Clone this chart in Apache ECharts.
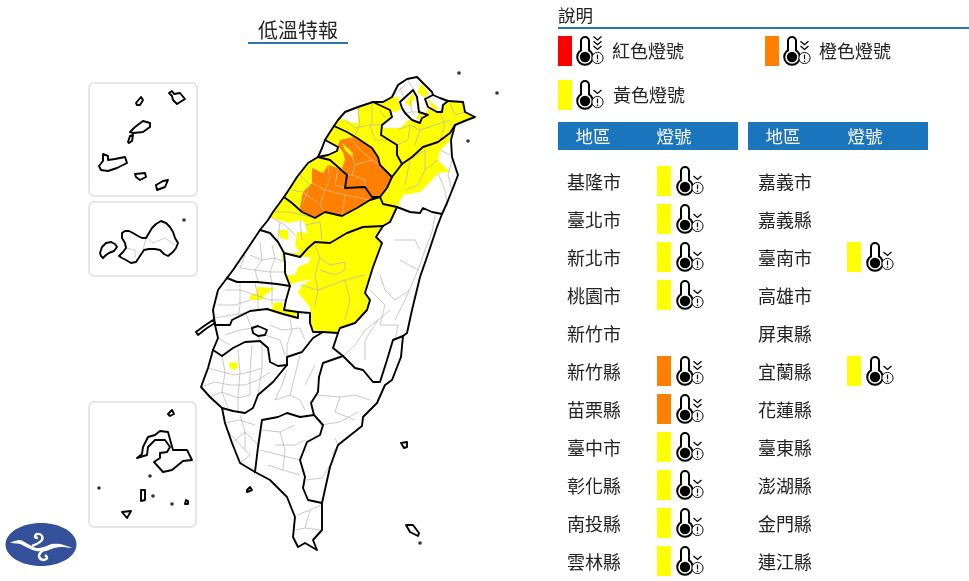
<!DOCTYPE html>
<html>
<head>
<meta charset="utf-8">
<title>低溫特報</title>
<script src="https://cdn.jsdelivr.net/npm/echarts@6/dist/echarts.min.js"></script>
<style>
  html, body { margin: 0; padding: 0; background: #fff; }
  #main { width: 969px; height: 581px; }
</style>
</head>
<body>
<div id="main"></div>
<script>
// 燈號表
var leftRegions = ['基隆市', '臺北市', '新北市', '桃園市', '新竹市', '新竹縣', '苗栗縣', '臺中市', '彰化縣', '南投縣', '雲林縣'];
var leftLevels = ['yellow', 'yellow', 'yellow', 'yellow', '', 'orange', 'orange', 'yellow', 'yellow', 'yellow', 'yellow'];
var rightRegions = ['嘉義市', '嘉義縣', '臺南市', '高雄市', '屏東縣', '宜蘭縣', '花蓮縣', '臺東縣', '澎湖縣', '金門縣', '連江縣'];
var rightLevels = ['', '', 'yellow', '', '', 'yellow', '', '', '', '', ''];
var levelColors = { red: '#ff0000', orange: '#ff8000', yellow: '#ffff00' };
var levelChevrons = { red: 3, orange: 2, yellow: 1 };
var levelNames = { red: '紅色燈號', orange: '橙色燈號', yellow: '黃色燈號' };

// 底圖:座標單位直接用參考圖的像素,y 向下
var coastTY = [[334,126],[338,120],[345,112],[358,107],[373,102]];
var coastNT1 = [[373,102],[383,102],[392,97],[398,85],[407,79],[417,77],[425,85],[432,92],[433,95]];
var coastKL = [[433,95],[440,98],[448,101]];
var coastNT2 = [[448,101],[463,102],[465,112],[475,117],[467,120],[455,125]];
var coastYI = [[455,125],[451,140],[452,157],[458,175],[453,188],[447,203],[442,214]];
var coastHL = [[442,214],[437,227],[427,257],[420,277],[412,310],[407,333],[403,336]];
var coastTT = [[403,336],[401,357],[392,380],[385,385],[377,403],[363,417],[362,426],[338,445],[330,467],[322,503]];
var coastPT = [[255,472],[270,480],[287,497],[295,517],[293,537],[298,547],[305,543],[317,550],[313,540],[322,530],[322,503]];
var coastKH = [[222,408],[225,423],[232,443],[240,463],[255,472]];
var coastTN = [[213,350],[208,368],[201,387],[210,397],[222,408]];
var coastCY = [[215,325],[218,338],[213,350]];
var coastYU = [[227,278],[218,290],[213,310],[215,325]];
var coastCH = [[260,230],[248,248],[233,270],[227,278]];
var coastTC = [[284,197],[273,212],[268,220],[260,230]];
var coastML = [[318,157],[308,163],[297,177],[290,188],[284,197]];
var coastCity = [[325,140],[322,148],[318,157]];
var coastHC = [[334,126],[330,132],[325,140]];

var lineTYNT = [[373,102],[390,110],[392,117],[382,125],[381,135],[397,145],[397,155],[402,164]];
var lineTYIL = [[402,164],[392,177]];
var lineTYHC = [[334,126],[347,132],[357,138],[372,148],[378,157],[380,165],[392,177]];
var lineILNT = [[402,164],[412,157],[423,147],[438,142],[450,133],[455,125]];
var lineCity = [[325,140],[338,147],[337,151],[328,155],[318,157]];
var lineHCML = [[318,157],[330,160],[338,167],[347,175],[345,188],[365,187],[372,197],[380,197]];
var lineHCIL = [[380,197],[387,188],[392,177]];
var lineMLTC = [[284,197],[292,203],[302,212],[315,218],[325,212],[342,216],[357,208],[370,200],[380,197]];
var lineTCCH = [[260,230],[270,233],[278,242],[284,253]];
var lineTCNT = [[284,253],[300,257],[308,248],[315,242],[330,243],[347,233],[363,227],[383,226]];
var lineTCIL = [[380,197],[383,204],[397,207]];
var lineTCHL = [[397,207],[390,222],[383,226]];
var lineILHL = [[397,207],[410,212],[420,213],[423,208],[432,212],[442,214]];
var lineCHNT = [[284,253],[285,263],[285,273],[290,286]];
var lineCHYU = [[227,278],[237,282],[257,282],[277,284],[290,286]];
var lineYUNT = [[290,286],[286,300],[284,310],[298,312]];
var lineYUCY = [[215,325],[230,325],[232,320],[250,311],[267,309],[283,314],[298,318],[298,312]];
var lineCYNT = [[298,312],[310,313],[310,323],[313,332],[323,332]];
var lineKHNT = [[323,332],[338,333]];
var lineNTHL = [[338,333],[340,328],[355,323],[367,310],[370,300],[365,293],[373,267],[382,243],[376,237],[383,226]];
var lineKHHL = [[338,333],[333,348],[343,356]];
var lineHLTT = [[343,356],[355,368],[363,370],[373,382],[380,382],[387,360],[393,340],[403,336]];
var lineKHTT = [[343,356],[323,363],[319,377],[318,392],[311,403],[314,415]];
var lineTTPT = [[314,415],[323,425],[320,435],[307,442],[300,460],[305,477],[303,488],[308,500],[322,503]];
var lineKHPT = [[255,472],[258,447],[262,420],[278,417],[287,413],[300,417],[314,415]];
var lineTNKH = [[222,408],[233,411],[245,413],[253,408],[258,395],[273,382],[287,365]];
var lineCYKH = [[287,365],[287,357],[302,352],[313,338],[323,332]];
var lineCYTN = [[213,350],[222,356],[233,348],[245,342],[260,341],[268,348],[270,362],[278,366],[287,365]];
var lineKeelung = [[433,95],[425,99],[428,107],[437,112],[442,112],[443,105],[448,101]];

var taipeiCity = [[400,102],[413,90],[417,97],[419,112],[428,115],[422,118],[420,123],[412,120],[405,113],[402,108],[400,102]];
var chiayiCity = [[252,328],[258,326],[267,330],[265,335],[258,336],[253,333],[252,328]];

// 離島(含三個框內的放大圖)
var islands = [
  [[196,332],[204,326],[213,320],[215,323],[207,328],[198,335],[196,332]],
  [[247,490],[250,487],[252,490],[247,492],[247,490]],
  [[401,443],[407,442],[407,447],[404,448],[401,443]],
  [[406,525],[413,525],[419,533],[418,536],[410,532],[406,525]],
  [[136,103],[141,97],[143,100],[140,105],[137,105],[136,103]],
  [[169,93],[172,91],[174,94],[180,93],[185,99],[177,104],[173,100],[172,96],[169,93]],
  [[130,132],[135,127],[143,121],[150,123],[150,127],[143,132],[133,133],[130,132]],
  [[128,142],[130,136],[133,135],[132,141],[129,143],[128,142]],
  [[103,154],[108,156],[108,160],[115,159],[125,157],[127,163],[117,168],[108,171],[101,170],[99,166],[103,161],[103,154]],
  [[135,174],[145,173],[146,177],[140,180],[136,177],[135,174]],
  [[156,185],[163,181],[168,180],[165,187],[157,190],[156,185]],
  [[100,253],[102,247],[106,243],[111,242],[115,244],[117,247],[114,251],[109,253],[106,255],[103,258],[101,256],[100,253]],
  [[122,233],[125,231],[129,231],[133,233],[138,236],[142,238],[146,238],[149,233],[152,228],[156,224],[161,221],[166,223],[170,227],[173,232],[175,238],[178,243],[176,248],[173,252],[168,256],[164,254],[160,250],[155,249],[149,249],[144,250],[140,256],[136,262],[131,263],[126,260],[122,258],[119,256],[123,252],[126,248],[125,243],[122,238],[122,233]],
  [[168,414],[172,410],[174,414],[170,416],[168,414]],
  [[137,458],[142,454],[143,447],[148,437],[155,435],[160,431],[168,432],[171,443],[173,450],[177,450],[187,450],[192,460],[183,461],[172,470],[163,472],[154,462],[160,458],[160,453],[167,452],[170,447],[165,440],[155,440],[148,447],[147,455],[137,458]],
  [[141,490],[145,490],[145,500],[141,501],[141,490]],
  [[122,512],[131,511],[127,518],[122,512]],
  [[186,500],[188,501],[188,504],[185,504],[186,500]]
];
var islets = [[459,73],[497,93],[468,141],[420,543],[184,220],[99,488],[153,496],[172,504],[150,476]];

// 上色範圍
var yellowPatches = [
  [[384,128],[400,128],[408,120],[420,123],[425,115],[428,108],[438,113],[448,101],[463,102],[465,112],[475,117],[467,120],[455,125],[450,133],[438,142],[423,147],[412,157],[402,164],[397,155],[397,145],[381,135]],
  [[373,102],[383,102],[392,97],[398,97],[401,110],[390,113],[390,110]],
  [[422,83],[428,93],[425,98],[417,92]],
  [[405,103],[413,93],[415,98],[410,107]],
  [[419,112],[423,115],[421,122],[417,118]],
  [[428,100],[435,105],[438,110],[432,109]],
  [[455,125],[451,140],[440,150],[438,160],[450,172],[438,173],[430,182],[420,192],[403,195],[397,207],[383,204],[380,197],[387,188],[392,177],[402,164],[412,157],[423,147],[438,142],[450,133]],
  [[281,253],[285,255],[285,262],[283,260]],
  [[257,287],[275,288],[265,295],[262,300],[250,300],[250,295],[257,293]],
  [[273,303],[282,302],[284,310],[298,312],[298,318],[283,314],[272,312]],
  [[228,363],[237,362],[238,368],[232,370]]
];
var whitePatches = [
  [[345,112],[358,107],[358,123],[353,123],[340,118]],
  [[260,230],[265,223],[270,217],[278,220],[290,223],[300,220],[305,223],[307,233],[297,232],[295,245],[300,253],[284,253],[278,242],[270,233]],
  [[284,254],[300,257],[311,257],[308,263],[298,267],[295,275],[285,275]],
  [[293,283],[313,279],[302,285],[298,293],[310,307],[310,313],[298,312],[285,308],[286,300],[290,286]]
];
var innerYellowPatches = [
  [[278,230],[288,230],[288,240],[280,238]],
  [[342,143],[353,153],[352,157],[345,150]]
];
var orangePatches = [
  [[340,140],[353,137],[372,148],[378,157],[380,165],[392,177],[387,188],[380,197],[372,197],[365,187],[345,188],[347,175],[342,168],[345,160],[343,152],[338,146]],
  [[312,168],[323,173],[328,165],[338,168],[347,175],[345,188],[365,187],[372,197],[380,197],[370,200],[357,208],[342,216],[325,212],[315,218],[302,212],[300,207],[303,192],[312,183]]
];

// 鄉鎮界
var townLines = [
  [[208,368],[222,372],[235,375],[250,372],[262,368]], [[201,387],[215,382],[230,385],[245,385],[258,380],[270,372]],
  [[210,397],[222,392],[238,398],[250,395]], [[222,356],[225,372],[222,392],[228,408]],
  [[238,350],[240,372],[238,398],[238,411]], [[252,345],[250,372],[250,395]], [[262,345],[262,368],[258,395]],
  [[225,335],[240,330],[252,328]], [[218,338],[230,345]], [[265,335],[280,340],[285,355]], [[258,336],[262,345]],
  [[270,325],[282,330],[300,328],[305,340]], [[245,312],[252,328]], [[290,318],[292,330],[287,345],[287,357]],
  [[225,290],[240,290],[255,295],[270,300],[285,300]], [[218,305],[235,305],[250,300]], [[215,318],[232,315],[250,312]],
  [[240,283],[240,305],[238,318]], [[255,283],[258,297],[258,310]], [[272,285],[272,305]],
  [[250,255],[262,260],[275,258],[285,262]], [[240,268],[255,270],[270,272],[285,272]],
  [[260,242],[262,260],[255,270],[258,282]], [[272,245],[275,258],[270,272],[272,284]], [[245,255],[240,268]],
  [[270,217],[285,225],[295,235]], [[280,222],[278,240]], [[300,220],[302,240]], [[305,225],[320,222],[322,240]],
  [[275,212],[290,212],[315,218]], [[300,175],[310,185],[302,205]], [[292,190],[303,192]],
  [[345,120],[355,128],[370,125],[382,125]], [[358,107],[360,125],[355,135]], [[372,103],[372,125]],
  [[370,125],[375,140],[390,140]], [[380,110],[385,118]],
  [[425,150],[425,170],[418,185],[405,190]], [[438,160],[425,170]], [[440,150],[450,155]],
  [[452,160],[448,175],[452,190]], [[438,173],[445,190],[447,203]], [[425,150],[410,160],[405,185]],
  [[320,258],[330,265],[345,262],[345,270],[335,275],[320,270]], [[315,245],[320,258],[315,275],[318,290]],
  [[318,290],[345,280],[365,275]], [[345,280],[350,300],[345,320]], [[300,285],[318,290],[315,305]],
  [[343,356],[355,345],[365,330],[378,320],[390,310]], [[395,240],[415,240],[420,250]],
  [[380,275],[385,290],[395,300],[410,290]], [[370,290],[385,305],[380,325],[398,325],[395,340]],
  [[378,320],[365,340],[365,360]], [[435,215],[432,232],[425,250],[418,270],[405,300],[395,320]], [[400,260],[418,270]],
  [[262,430],[280,432],[295,425]], [[275,445],[295,445],[305,440]], [[260,450],[280,455],[300,460]],
  [[280,432],[285,450],[283,470]], [[268,465],[283,470],[300,475]],
  [[287,370],[282,385],[275,400],[290,395],[300,400],[305,410]], [[300,355],[295,375],[290,395]], [[315,365],[305,385]],
  [[317,395],[340,397],[355,395],[370,400]], [[340,397],[335,412],[355,420]], [[320,425],[340,422],[358,412]],
  [[335,438],[338,445],[332,455]], [[306,480],[322,478],[330,465]],
  [[225,423],[240,420],[255,425]], [[232,443],[245,432],[258,445]], [[240,463],[250,455]],
  [[240,415],[245,432],[245,450]], [[228,432],[250,455]],
  [[297,515],[310,510],[322,505]], [[295,530],[305,528],[320,530]], [[305,528],[310,510]],
  [[410,100],[412,112],[405,113]], [[412,112],[419,112]], [[410,125],[420,130],[435,125],[450,120]],
  [[440,113],[445,125],[440,140]], [[420,130],[415,145]], [[398,130],[410,125],[408,140],[397,145]],
  [[392,97],[405,85]], [[407,79],[415,92]], [[400,88],[405,100]], [[450,103],[455,115],[465,112]],
  [[126,248],[135,250],[135,258]], [[146,238],[143,250]], [[147,238],[153,243],[165,238],[175,245]]
];
var orangeTownLines = [
  [[312,183],[325,190],[320,205],[325,212]], [[303,192],[320,205]], [[325,190],[330,178],[328,165]],
  [[338,168],[335,185],[345,188]], [[325,190],[345,195],[370,200]], [[345,195],[342,216]],
  [[350,150],[355,165],[352,175],[347,175]], [[355,165],[372,160],[380,165]],
  [[352,175],[365,180],[365,187]], [[350,138],[360,150],[372,160]]
];

var borderLines = [
  coastTY, coastNT1, coastKL, coastNT2, coastYI, coastHL, coastTT, coastPT, coastKH, coastTN, coastCY, coastYU,
  coastCH, coastTC, coastML, coastCity, coastHC, lineTYNT, lineTYIL, lineTYHC, lineILNT, lineCity, lineHCML,
  lineHCIL, lineMLTC, lineTCCH, lineTCNT, lineTCIL, lineTCHL, lineILHL, lineCHNT, lineCHYU, lineYUNT, lineYUCY,
  lineCYNT, lineKHNT, lineNTHL, lineKHHL, lineHLTT, lineKHTT, lineTTPT, lineKHPT, lineTNKH, lineCYKH, lineCYTN,
  lineKeelung, taipeiCity, chiayiCity
].concat(islands);

function rev(line) { return line.slice().reverse(); }
function ring() {
  var out = [];
  for (var i = 0; i < arguments.length; i++) out = out.concat(arguments[i]);
  out.push(out[0]);
  return out;
}
function closeAll(list) {
  return list.map(function (p) { return [p.concat([p[0]])]; });
}
function feature(name, polys) {
  return { type: 'Feature', properties: { name: name }, geometry: { type: 'MultiPolygon', coordinates: polys } };
}

var mainIsland = ring(coastTY, coastNT1, coastKL, coastNT2, coastYI, coastHL, coastTT, rev(coastPT), rev(coastKH),
  rev(coastTN), rev(coastCY), rev(coastYU), rev(coastCH), rev(coastTC), rev(coastML), rev(coastCity), rev(coastHC));
var taoyuan = ring(coastTY, lineTYNT, lineTYIL, rev(lineTYHC));
var hsinchu = ring(coastHC, lineCity, lineHCML, lineHCIL, rev(lineTYHC));
var miaoli = ring(coastML, lineMLTC, rev(lineHCML));
var taichung = ring(coastTC, lineTCCH, lineTCNT, rev(lineTCHL), rev(lineTCIL), rev(lineMLTC));
var nantou = ring(lineTCNT, rev(lineNTHL), rev(lineKHNT), rev(lineCYNT), rev(lineYUNT), rev(lineCHNT));

var landPolys = [[mainIsland]].concat(islands.map(function (p) { return [p]; }));
var yellowPolys = [[taoyuan], [hsinchu], [miaoli], [taichung], [nantou]].concat(closeAll(yellowPatches));

echarts.registerMap('taiwan', {
  type: 'FeatureCollection',
  features: [
    feature('land', landPolys),
    feature('yellowArea', yellowPolys),
    feature('whiteArea', closeAll(whitePatches).concat([[taipeiCity.slice()]]).concat([[lineCity.concat(rev(coastCity))]])),
    feature('taipeiYellow', closeAll(yellowPatches.slice(3, 5))),
    feature('orangeArea', closeAll(orangePatches)),
    feature('innerYellow', closeAll(innerYellowPatches))
  ]
});

function flat(color) {
  return { areaColor: color, borderWidth: 0, borderColor: color };
}
function toLines(list) {
  return list.map(function (p) { return { coords: p }; });
}

// 溫度計圖示,(x, y) 是燈號色塊的左上角
function thermometer(x, y, dx, chevrons) {
  var cx = x + dx, ix = cx + 12.5;
  var parts = [
    { type: 'rect', shape: { x: cx - 4, y: y + 1, width: 8, height: 18, r: 4 }, style: { fill: '#fff', stroke: '#000', lineWidth: 2 } },
    { type: 'circle', shape: { cx: cx, cy: y + 21, r: 7.8 }, style: { fill: '#fff', stroke: '#000', lineWidth: 2 } },
    { type: 'rect', shape: { x: cx - 3, y: y + 10, width: 6, height: 6 }, style: { fill: '#fff' } },
    { type: 'circle', shape: { cx: cx, cy: y + 21, r: 5.2 }, style: { fill: '#000' } },
    { type: 'circle', shape: { cx: ix, cy: y + 22, r: 5.6 }, style: { fill: '#fff', stroke: '#111', lineWidth: 1 } },
    { type: 'line', shape: { x1: ix, y1: y + 18.6, x2: ix, y2: y + 23.2 }, style: { stroke: '#000', lineWidth: 1.2 } },
    { type: 'circle', shape: { cx: ix, cy: y + 25.2, r: 0.8 }, style: { fill: '#000' } }
  ];
  for (var i = 0; i < chevrons; i++) {
    var cy = y + 12.5 - i * 4.8;
    parts.push({
      type: 'polyline',
      shape: { points: [[ix - 4, cy - 2.5], [ix, cy + 1], [ix + 4, cy - 2.5]] },
      style: { fill: 'none', stroke: '#000', lineWidth: 1.3 }
    });
  }
  return parts;
}

var cjk = '"Noto Sans CJK TC", sans-serif';
function label(x, y, text, size, color, align) {
  return {
    type: 'text', x: x, y: y,
    style: { text: text, font: size + 'px ' + cjk, fill: color || '#222', textAlign: align || 'left', textVerticalAlign: 'middle' }
  };
}
function legendItem(level, x, y, textX) {
  var parts = [{ type: 'rect', shape: { x: x, y: y, width: 14, height: 30 }, style: { fill: levelColors[level] } }];
  return parts.concat(thermometer(x, y, 27, levelChevrons[level]), [label(textX, y + 15, levelNames[level], 18)]);
}
function insetBox(x, y, w, h) {
  return { type: 'rect', shape: { x: x, y: y, width: w, height: h, r: 5 }, style: { fill: 'none', stroke: '#dedede', lineWidth: 1.5 } };
}
function headerBar(x, w, nameX, lightX) {
  return [
    { type: 'rect', shape: { x: x, y: 122, width: w, height: 28 }, style: { fill: '#1b75bc' } },
    label(nameX, 136, '地區', 17.5, '#fff', 'center'),
    label(lightX, 136, '燈號', 17.5, '#fff', 'center')
  ];
}

var staticParts = [
  label(298, 30, '低溫特報', 20, '#222', 'center'),
  { type: 'rect', shape: { x: 248, y: 42, width: 100, height: 2 }, style: { fill: '#2b78a8' } },
  label(558, 15, '說明', 17.5),
  { type: 'rect', shape: { x: 558, y: 27, width: 411, height: 2 }, style: { fill: '#2b78a8' } },
  insetBox(89, 83, 108, 113), insetBox(89, 202, 108, 74), insetBox(89, 402, 107, 125),
  { type: 'ellipse', shape: { cx: 41, cy: 544.5, rx: 35.5, ry: 21.5 }, style: { fill: '#34509a' } },
  { type: 'polygon', shape: { smooth: 0.25, points: [[10,543],[20,540],[28,544],[36,548],[44,547],[52,544],[60,544],[72,548],[62,547],[54,548],[46,551],[36,551],[28,548],[20,544]] }, style: { fill: '#fff' } },
  { type: 'polyline', shape: { smooth: 0.4, points: [[32,546],[41,541],[42,536],[37,534],[35,537],[38,538]] }, style: { fill: 'none', stroke: '#fff', lineWidth: 2.4 } },
  { type: 'polyline', shape: { smooth: 0.4, points: [[50,546],[42,551],[39,556],[43,560],[47,558],[45,555]] }, style: { fill: 'none', stroke: '#fff', lineWidth: 2.4 } }
].concat(
  legendItem('red', 558, 36, 612),
  legendItem('orange', 765, 36, 819),
  legendItem('yellow', 558, 80, 613),
  headerBar(558, 180, 593, 674),
  headerBar(748, 180, 783, 865)
);

var rowTop = 163, rowsHeight = 418, columnWidth = 170;

function tableData(levels, lightX) {
  var out = [];
  levels.forEach(function (level, i) {
    if (level) out.push([lightX, i, level]);
  });
  return out;
}
function tableSeries(index, levels, lightX) {
  return {
    type: 'custom', xAxisIndex: index, yAxisIndex: index, silent: true,
    encode: { x: 0, y: 1 }, data: tableData(levels, lightX),
    renderItem: function (params, api) {
      var p = api.coord([api.value(0), api.value(1)]);
      var level = levels[api.value(1)];
      var x = p[0], y = p[1] - 16;
      return {
        type: 'group',
        children: [{ type: 'rect', shape: { x: x, y: y, width: 14, height: 30 }, style: { fill: levelColors[level] } }]
          .concat(thermometer(x, y, 28, levelChevrons[level]))
      };
    }
  };
}
function tableY(index, names) {
  return {
    type: 'category', gridIndex: index, inverse: true, data: names,
    axisLine: { show: false }, axisTick: { show: false }, splitLine: { show: false },
    axisLabel: { inside: true, margin: 0, fontSize: 18, color: '#222', fontFamily: cjk }
  };
}
function tableX(index) {
  return { type: 'value', gridIndex: index, min: 0, max: columnWidth, show: false };
}

var myChart = echarts.init(document.getElementById('main'), null, { renderer: 'canvas' });
myChart.setOption({
  animation: false,
  backgroundColor: '#fff',
  graphic: { elements: staticParts },
  geo: {
    map: 'taiwan', silent: true, roam: false,
    projection: {
      project: function (p) { return [p[0], p[1]]; },
      unproject: function (p) { return [p[0], p[1]]; }
    },
    boundingCoords: [[0, 0], [969, 581]],
    left: 0, top: 0, width: 969, height: 581,
    label: { show: false },
    itemStyle: flat('#fff'),
    emphasis: { disabled: true },
    regions: [
      { name: 'land', itemStyle: flat('#fff') },
      { name: 'yellowArea', itemStyle: flat(levelColors.yellow) },
      { name: 'whiteArea', itemStyle: flat('#fff') },
      { name: 'taipeiYellow', itemStyle: flat(levelColors.yellow) },
      { name: 'orangeArea', itemStyle: flat(levelColors.orange) },
      { name: 'innerYellow', itemStyle: flat(levelColors.yellow) }
    ]
  },
  grid: [
    { left: 567, top: rowTop, width: columnWidth, height: rowsHeight },
    { left: 758, top: rowTop, width: columnWidth, height: rowsHeight }
  ],
  xAxis: [tableX(0), tableX(1)],
  yAxis: [tableY(0, leftRegions), tableY(1, rightRegions)],
  series: [
    {
      type: 'lines', coordinateSystem: 'geo', polyline: true, silent: true, z: 3,
      lineStyle: { color: '#b4b4ba', opacity: 0.9, width: 0.8 }, data: toLines(townLines)
    },
    {
      type: 'lines', coordinateSystem: 'geo', polyline: true, silent: true, z: 3,
      lineStyle: { color: '#f4b67c', opacity: 1, width: 0.9 }, data: toLines(orangeTownLines)
    },
    {
      type: 'lines', coordinateSystem: 'geo', polyline: true, silent: true, z: 4,
      lineStyle: { color: '#000', opacity: 1, width: 1.9, cap: 'round', join: 'round' }, data: toLines(borderLines)
    },
    {
      type: 'scatter', coordinateSystem: 'geo', silent: true, z: 5,
      symbol: 'circle', symbolSize: 3.6, itemStyle: { color: '#000' }, data: islets
    },
    tableSeries(0, leftLevels, 90),
    tableSeries(1, rightLevels, 89)
  ]
});
</script>
</body>
</html>
